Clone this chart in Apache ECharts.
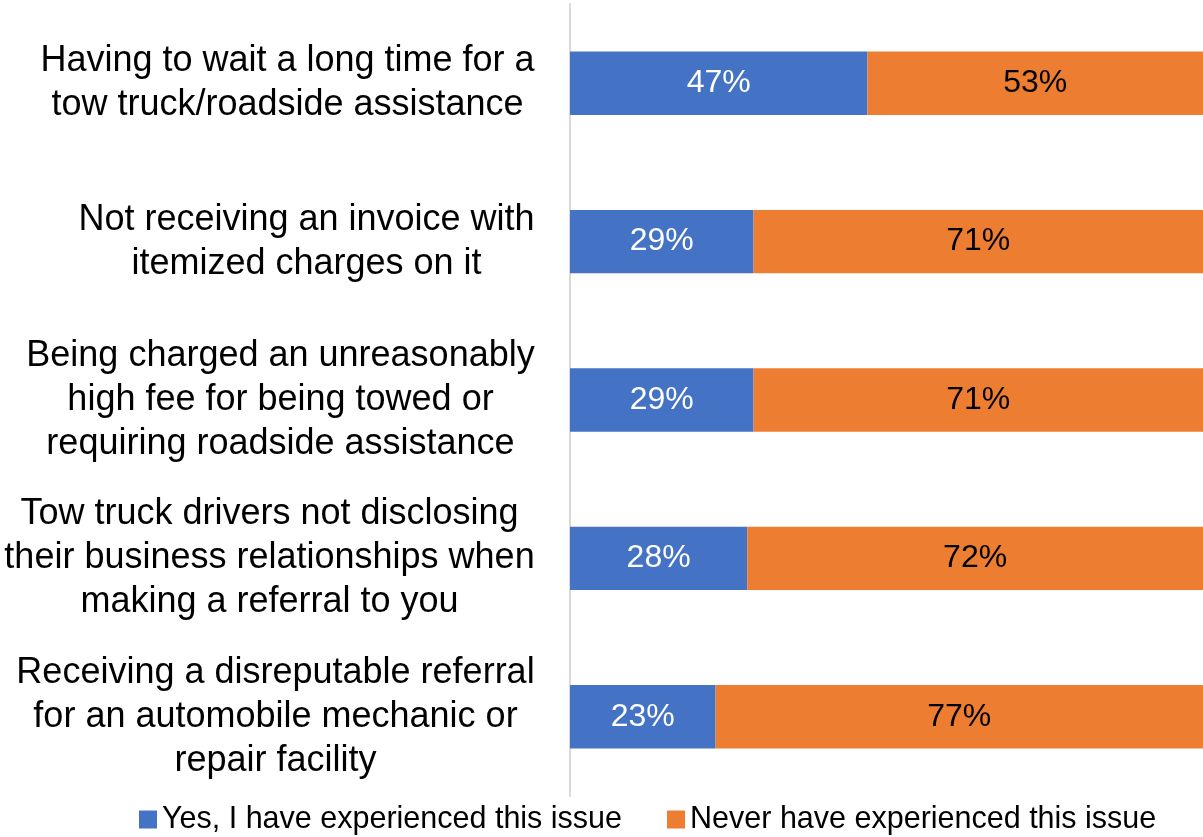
<!DOCTYPE html>
<html>
<head>
<meta charset="utf-8">
<script src="https://cdn.jsdelivr.net/npm/echarts@6/dist/echarts.min.js"></script>
<style>
html, body { margin: 0; padding: 0; background: #fff; }
#chart { width: 1203px; height: 837px; }
</style>
</head>
<body>
<div id="chart"></div>
<script>
var categories = [
	"Having to wait a long time for a\ntow truck/roadside assistance",
	"Not receiving an invoice with\nitemized charges on it",
	"Being charged an unreasonably\nhigh fee for being towed or\nrequiring roadside assistance",
	"Tow truck drivers not disclosing\ntheir business relationships when\nmaking a referral to you",
	"Receiving a disreputable referral\nfor an automobile mechanic or\nrepair facility"
];
var yesValues = [47, 29, 29, 28, 23];
var neverValues = [53, 71, 71, 72, 77];
var seriesNames = ["Yes, I have experienced this issue", "Never have experienced this issue"];

var fontFamily = "Liberation Sans, Arial, sans-serif";
var labelSize = 36;

// measure widest line of each label so lines can be centred inside a right-aligned block
var cv = document.createElement("canvas").getContext("2d");
cv.font = labelSize + "px " + fontFamily;
var rich = {};
for (var i = 0; i < categories.length; i++) {
	var lines = categories[i].split("\n");
	var w = 0;
	for (var j = 0; j < lines.length; j++) {
		w = Math.max(w, cv.measureText(lines[j]).width);
	}
	rich["c" + i] = {
		width: Math.ceil(w),
		align: "center",
		fontSize: labelSize,
		lineHeight: 44,
		fontFamily: fontFamily,
		color: "#000"
	};
}

var myChart = echarts.init(document.getElementById("chart"));
var option = {
	animation: false,
	color: ["#4472C4", "#ED7D31"],
	textStyle: { fontFamily: fontFamily },
	grid: { left: 570, right: 0, top: 4, bottom: 41, containLabel: false },
	legend: {
		top: 799,
		left: 134,
		itemWidth: 18,
		itemHeight: 18,
		itemGap: 45,
		icon: "rect",
		textStyle: { fontSize: 30.5, color: "#000" },
		data: seriesNames
	},
	xAxis: {
		type: "value",
		min: 0,
		max: 100,
		show: false
	},
	yAxis: {
		type: "category",
		inverse: true,
		data: categories,
		axisLine: { show: true, lineStyle: { color: "#d9d9d9", width: 2 } },
		axisTick: { show: false },
		axisLabel: {
			margin: 35,
			formatter: function(value, idx) {
				return value.split("\n").map(function(l) {
					return "{c" + idx + "|" + l + "}";
				}).join("\n");
			},
			rich: rich
		}
	},
	series: [{
		name: seriesNames[0],
		type: "bar",
		stack: "total",
		barWidth: "40%",
		data: yesValues,
		label: {
			show: true,
			position: "inside",
			color: "#fff",
			fontSize: 32,
			formatter: "{c}%"
		}
	}, {
		name: seriesNames[1],
		type: "bar",
		stack: "total",
		barWidth: "40%",
		data: neverValues,
		label: {
			show: true,
			position: "inside",
			color: "#000",
			fontSize: 32,
			formatter: "{c}%"
		}
	}]
};
myChart.setOption(option);
</script>
</body>
</html>
